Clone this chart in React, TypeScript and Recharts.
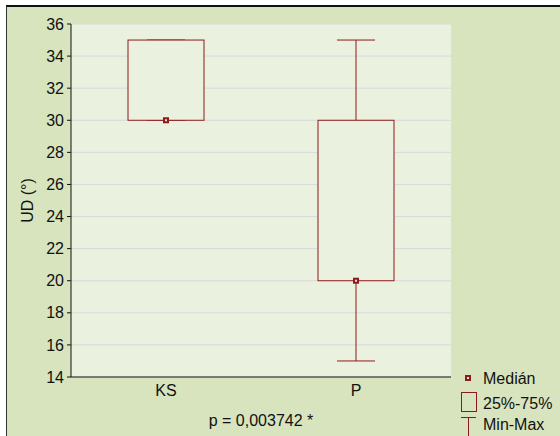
import React from 'react';
import { ComposedChart, Bar, Scatter, XAxis, YAxis, CartesianGrid, Legend } from 'recharts';

const categories = ['KS', 'P'];
const minValues = [30, 15];
const q1Values = [30, 20];
const medianValues = [30, 20];
const q3Values = [35, 30];
const maxValues = [35, 35];
const yTicks = [14, 16, 18, 20, 22, 24, 26, 28, 30, 32, 34, 36];
const legendLabels = ['Medián', '25%-75%', 'Min-Max'];
const yLabel = 'UD (°)';
const pLabel = 'p = 0,003742 *';

const data = categories.map((name, i) => ({
  name,
  range: [minValues[i], maxValues[i]],
  min: minValues[i],
  q1: q1Values[i],
  median: medianValues[i],
  q3: q3Values[i],
  max: maxValues[i],
}));

const RED = '#8e1b1b';
const PLOT_BG = '#eaf1de';
const OUTER_BG = '#d7e4bd';
const FONT = '"Liberation Sans", Arial, sans-serif';
const TEXT = '#111';

// whiskers + box, drawn inside the bar's min..max span
const BoxShape: React.FC<any> = ({ x, y, width, height, payload }) => {
  const { min, q1, q3, max } = payload;
  const span = max - min || 1;
  const toY = (v: number) => y + (height * (max - v)) / span;
  const cx = x + width / 2;
  const cap = 19;
  return (
    <g>
      <line x1={cx} x2={cx} y1={toY(max)} y2={toY(q3)} stroke={RED} />
      <line x1={cx} x2={cx} y1={toY(q1)} y2={toY(min)} stroke={RED} />
      <line x1={cx - cap} x2={cx + cap} y1={toY(max)} y2={toY(max)} stroke={RED} />
      <line x1={cx - cap} x2={cx + cap} y1={toY(min)} y2={toY(min)} stroke={RED} />
      <rect x={x} y={toY(q3)} width={width} height={toY(q1) - toY(q3)} fill={PLOT_BG} stroke={RED} />
    </g>
  );
};

const MedianShape: React.FC<any> = ({ cx, cy }) => (
  <g>
    <rect x={cx - 3} y={cy - 3} width={6} height={6} fill={RED} />
    <rect x={cx - 1} y={cy - 1} width={2} height={2} fill="#f2d9d9" />
  </g>
);

const LegendContent: React.FC<any> = () => (
  <svg width={105} height={69} style={{ display: 'block', fontFamily: FONT, fontSize: 16 }}>
    <rect x={10} y={8} width={6} height={6} fill={RED} />
    <rect x={12} y={10} width={2} height={2} fill="#f2d9d9" />
    <text x={28} y={11} dominantBaseline="central" fill={TEXT}>{legendLabels[0]}</text>
    <rect x={6.5} y={25.5} width={15} height={19} fill="none" stroke={RED} />
    <text x={28} y={36} dominantBaseline="central" fill={TEXT}>{legendLabels[1]}</text>
    <line x1={6} x2={21} y1={50.5} y2={50.5} stroke={RED} />
    <line x1={13.5} x2={13.5} y1={50.5} y2={69} stroke={RED} />
    <text x={28} y={57} dominantBaseline="central" fill={TEXT}>{legendLabels[2]}</text>
  </svg>
);

const noTick = () => <g />;

const App: React.FC = () => {
  return (
    <div style={{ position: 'absolute', left: 0, top: 0, width: 560, height: 436, background: '#fff' }}>
      <div
        style={{
          position: 'absolute',
          left: 6,
          top: 5,
          width: 554,
          height: 431,
          background: OUTER_BG,
          borderTop: '2px solid #111',
          borderLeft: '1px solid #333',
        }}
      />
      <div style={{ position: 'absolute', left: 0, top: 0 }}>
        <ComposedChart
          width={560}
          height={436}
          data={data}
          margin={{ top: 24, right: 109, bottom: 7, left: 7 }}
        >
          <CartesianGrid horizontal vertical={false} stroke="#d9d9d9" fill={PLOT_BG} fillOpacity={1} />
          <XAxis
            xAxisId="ticks"
            dataKey="name"
            orientation="bottom"
            mirror
            height={0}
            tickSize={3}
            tick={noTick}
            axisLine={false}
            tickLine={{ stroke: TEXT }}
          />
          <XAxis
            dataKey="name"
            height={52}
            tickLine={false}
            tickSize={6}
            tickMargin={2}
            axisLine={{ stroke: TEXT }}
            tick={{ fill: TEXT, fontSize: 16, fontFamily: FONT }}
            label={{ value: pLabel, position: 'insideBottom', offset: 3, fill: TEXT, fontSize: 16, fontFamily: FONT }}
          />
          <XAxis
            xAxisId="top"
            dataKey="name"
            orientation="top"
            mirror
            height={0}
            tickSize={3}
            tick={noTick}
            axisLine={{ stroke: TEXT }}
            tickLine={{ stroke: TEXT }}
          />
          <YAxis
            width={64}
            domain={[14, 36]}
            ticks={yTicks}
            interval={0}
            tickSize={4}
            tickMargin={3}
            axisLine={{ stroke: TEXT }}
            tickLine={{ stroke: TEXT }}
            tick={{ fill: TEXT, fontSize: 16, fontFamily: FONT }}
            label={{ value: yLabel, angle: -90, position: 'insideLeft', offset: 20, fill: TEXT, fontSize: 16, fontFamily: FONT, style: { textAnchor: 'middle' } }}
          />
          <YAxis
            yAxisId="right"
            orientation="right"
            mirror
            width={0}
            domain={[14, 36]}
            ticks={yTicks}
            interval={0}
            tickSize={3}
            tick={noTick}
            axisLine={{ stroke: TEXT }}
            tickLine={{ stroke: TEXT }}
          />
          <Bar dataKey="range" barSize={76} shape={<BoxShape />} isAnimationActive={false} />
          <Scatter dataKey="median" shape={<MedianShape />} isAnimationActive={false} />
          <Legend
            layout="vertical"
            align="center"
            verticalAlign="middle"
            content={<LegendContent />}
            wrapperStyle={{ position: 'absolute', left: 455, top: 367, width: 105 }}
          />
        </ComposedChart>
      </div>
    </div>
  );
};

export default App;
